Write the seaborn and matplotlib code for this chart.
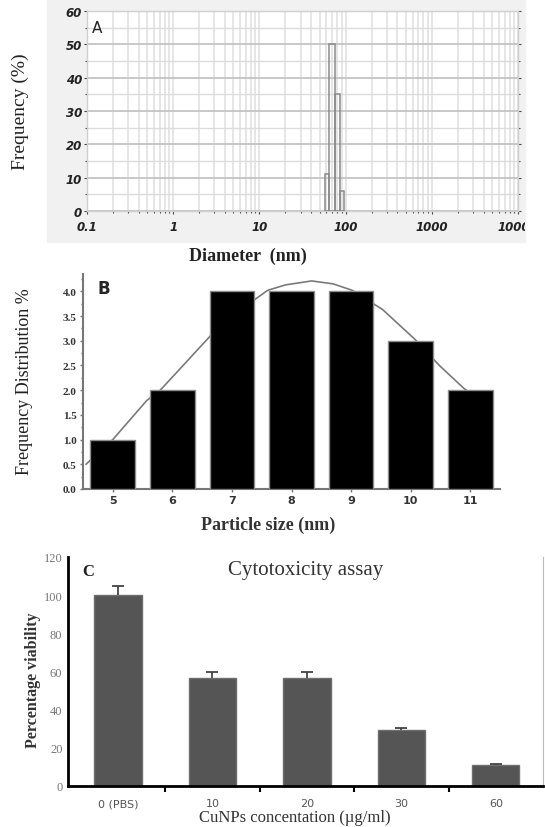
import numpy as np
import pandas as pd
import seaborn as sns
import matplotlib.pyplot as plt
from matplotlib.patches import Rectangle
from matplotlib.transforms import Bbox, TransformedBbox
from matplotlib.ticker import FixedLocator, MultipleLocator, LogLocator, NullFormatter

# A: DLS size distribution (bin edges in nm, frequency %)
dls_edges = [58, 65, 76, 85, 95]
dls_freq = [11, 50, 35, 6]
dls_ticks = [0.1, 1, 10, 100, 1000, 10000]
dls_labels = ["0.1", "1", "10", "100", "1000", "10000"]

# B: particle size histogram + fitted curve
sizes = [5, 6, 7, 8, 9, 10, 11]
size_freq = [1.0, 2.0, 4.0, 4.0, 4.0, 3.0, 2.0]
fit_x = [4.55, 5.0, 5.57, 5.79, 6.64, 7.38, 7.6, 7.9, 8.34, 8.7, 9.02, 9.53, 10.07, 10.49, 10.89, 11.2]
fit_y = [0.5, 1.0, 1.79, 1.99, 3.1, 3.83, 4.02, 4.13, 4.21, 4.15, 4.02, 3.63, 3.03, 2.49, 2.04, 1.75]

# C: cytotoxicity
conc = ["0 (PBS)", "10", "20", "30", "60"]
viability = [100, 56.5, 56.5, 29.3, 11]
viability_err = [5, 3.3, 3.3, 1.2, 0.7]

sns.set_style("white")
plt.rcParams['font.family'] = ['Liberation Serif', 'DejaVu Serif']

fig = plt.figure(figsize=(5.45, 8.28), dpi=100)
W, H = 545, 828

def rect(x0, y0, x1, y1):
    # pixel box (top-left origin) -> figure fraction
    return [x0 / W, 1 - y1 / H, (x1 - x0) / W, (y1 - y0) / H]

# ---------- panel A ----------
fig.patches.append(Rectangle((47 / W, 1 - 243 / H), 478 / W, 243 / H,
                             transform=fig.transFigure, color="#f1f1f1", zorder=-5))
axa = fig.add_axes(rect(87, 12, 518, 212))
axa.set_facecolor("white")
axa.bar(dls_edges[:-1], dls_freq, width=np.diff(dls_edges), align="edge",
        fill=False, edgecolor="#8a8a8a", linewidth=1.1, zorder=3)
axa.set_xscale("log")
axa.set_xlim(0.1, 10000)
axa.set_ylim(0, 60)
axa.xaxis.set_major_locator(FixedLocator(dls_ticks))
axa.xaxis.set_minor_locator(LogLocator(base=10, subs=np.arange(2, 10)))
axa.xaxis.set_minor_formatter(NullFormatter())
axa.set_xticklabels(dls_labels)
axa.yaxis.set_major_locator(MultipleLocator(10))
axa.yaxis.set_minor_locator(MultipleLocator(5))
axa.grid(which="major", axis="y", color="#c4c4c4", linewidth=1.3)
axa.grid(which="minor", axis="y", color="#dcdcdc", linewidth=1.0)
axa.grid(which="both", axis="x", color="#e2e2e2", linewidth=1.2)
for s in axa.spines.values():
    s.set_color("#cfcfcf")
    s.set_linewidth(1.0)
axa.tick_params(which="both", left=True, right=True, bottom=True, length=2.5,
                color="#444", width=0.8, pad=1)
axa.tick_params(which="minor", bottom=True, length=1.5)
axa.tick_params(axis="x", which="major", pad=4)
for lbl in axa.get_xticklabels() + axa.get_yticklabels():
    lbl.set_family("DejaVu Sans")
    lbl.set_fontstyle("italic")
    lbl.set_fontweight("bold")
    lbl.set_fontsize(8.5)
    lbl.set_color("#222")
clip = TransformedBbox(Bbox([[0, 0], [525 / W, 1]]), fig.transFigure)
last = axa.get_xticklabels()[-1]
last.set_clip_box(clip)
last.set_clip_on(True)
axa.text(0.012, 0.955, "A", transform=axa.transAxes, family="DejaVu Sans",
         fontsize=11, va="top", ha="left")
fig.text(20 / W, 1 - 112 / H, "Frequency (%)", rotation=90, ha="center", va="center",
         fontsize=14, color="#222")
fig.text(248 / W, 1 - 256 / H, "Diameter  (nm)", ha="center", va="center",
         fontsize=13, fontweight="bold", color="#222")

# ---------- panel B ----------
axb = fig.add_axes(rect(83, 275, 500, 490))
sns.lineplot(x=fit_x, y=fit_y, sort=False, color="#7a7a7a", linewidth=1.2, ax=axb, zorder=1)
sns.barplot(x=sizes, y=size_freq, native_scale=True, width=0.75, color="black",
            edgecolor="#8c8c8c", linewidth=1.0, ax=axb, zorder=3)
axb.set_xlim(4.5, 11.5)
axb.set_ylim(0, 4.35)
axb.set_xticks(sizes)
axb.yaxis.set_major_locator(MultipleLocator(0.5))
axb.yaxis.set_minor_locator(MultipleLocator(0.25))
axb.yaxis.set_major_formatter(plt.FormatStrFormatter("%.1f"))
sns.despine(ax=axb)
for s in ("left", "bottom"):
    axb.spines[s].set_color("#777")
    axb.spines[s].set_linewidth(1.5)
axb.tick_params(which="both", left=True, bottom=True, length=2.5, color="#777", width=1, pad=2)
axb.tick_params(which="minor", length=1.5)
for lbl in axb.get_yticklabels():
    lbl.set_fontweight("bold")
    lbl.set_fontsize(8)
    lbl.set_color("#333")
for lbl in axb.get_xticklabels():
    lbl.set_family("DejaVu Sans")
    lbl.set_fontweight("bold")
    lbl.set_fontsize(8)
    lbl.set_color("#333")
axb.set_xlabel("")
axb.set_ylabel("")
axb.text(0.035, 0.975, "B", transform=axb.transAxes, family="DejaVu Sans",
         fontsize=12, fontweight="bold", va="top", ha="left")
fig.text(25 / W, 1 - 382 / H, "Frequency Distribution %", rotation=90, ha="center",
         va="center", fontsize=13, color="#222")
fig.text(268 / W, 1 - 525 / H, "Particle size (nm)", ha="center", va="center",
         fontsize=13, fontweight="bold", color="#333")

# ---------- panel C ----------
axc = fig.add_axes(rect(68, 558, 543, 787))
sns.barplot(x=conc, y=viability, color="#555555", width=0.5, edgecolor="#6e6e6e",
            linewidth=1.0, saturation=1, ax=axc, zorder=2)
eb = axc.errorbar(range(len(conc)), viability, yerr=[np.zeros(len(conc)), viability_err],
                  fmt="none", ecolor="#444", elinewidth=1.3, capsize=4, capthick=1.3, zorder=3)
eb[1][0].set_visible(False)
axc.set_xlim(-0.53, 4.5)
axc.set_ylim(0, 120)
axc.yaxis.set_major_locator(MultipleLocator(20))
axc.xaxis.set_minor_locator(FixedLocator([0.5, 1.5, 2.5, 3.5]))
for s in ("left", "bottom"):
    axc.spines[s].set_color("black")
    axc.spines[s].set_linewidth(2)
axc.spines["top"].set_visible(False)
axc.spines["right"].set_color("#bbbbbb")
axc.spines["right"].set_linewidth(0.8)
axc.tick_params(axis="x", which="major", length=0, pad=9, labelsize=8, labelcolor="#555")
axc.tick_params(axis="x", which="minor", bottom=True, length=4, width=1.5, color="black")
axc.tick_params(axis="y", length=0, pad=4, labelsize=9, labelcolor="#777")
for lbl in axc.get_xticklabels():
    lbl.set_family("DejaVu Sans")
axc.set_xlabel("")
axc.set_ylabel("")
axc.text(0.03, 0.975, "C", transform=axc.transAxes, fontsize=12, fontweight="bold",
         va="top", ha="left", color="#222")
axc.set_title("Cytotoxicity assay", fontsize=15, color="#333", pad=-12)
fig.text(33 / W, 1 - 680 / H, "Percentage viability", rotation=90, ha="center",
         va="center", fontsize=11.5, fontweight="bold", color="#333")
fig.text(295 / W, 1 - 818 / H, "CuNPs concentation (\u00b5g/ml)", ha="center",
         va="center", fontsize=12, color="#333")

fig.savefig("out.png", dpi=100)
